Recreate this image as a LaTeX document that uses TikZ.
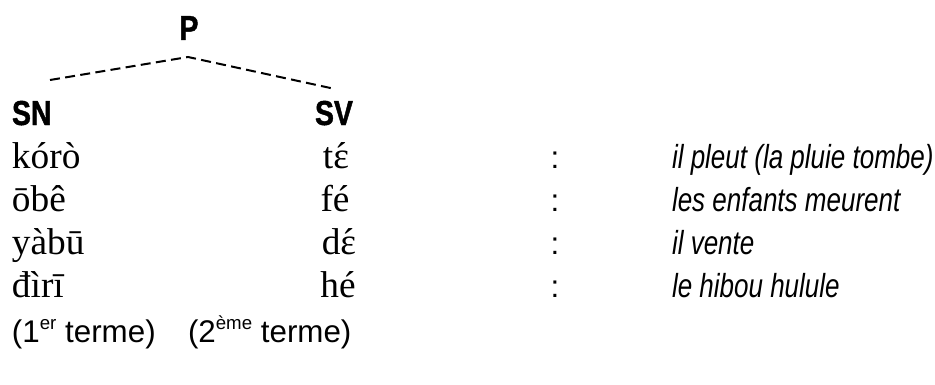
\documentclass[tikz,border=0pt]{standalone}
\usepackage{fontspec}
\setmainfont{Liberation Serif}
\setsansfont{Liberation Sans}
\newfontfamily\narrowsans[FakeStretch=0.78, BoldFont={Liberation Sans Bold}, ItalicFont={Liberation Sans Italic}]{Liberation Sans}
\newfontfamily\catfont[FakeStretch=0.82, FakeBold=1.2]{Liberation Sans Bold}
\usetikzlibrary{positioning}
\newcommand\acuteon[1]{\accent"B4 #1}
\newcommand\supr[1]{\raisebox{0.75ex}{\fontsize{14}{16}\selectfont #1}}

\begin{document}
\begin{tikzpicture}[x=0.75pt, y=-0.75pt,
  every node/.style={inner sep=0pt, outer sep=0pt},
  cat/.style={font=\catfont\fontsize{26}{30}\selectfont},
  word/.style={font=\fontsize{28}{32}\selectfont},
  gloss/.style={font=\narrowsans\itshape\fontsize{25}{29}\selectfont, anchor=base west},
  term/.style={font=\sffamily\fontsize{23.5}{27}\selectfont, anchor=base west},
  branch/.style={dash pattern=on 7.5pt off 4pt, line width=1.5pt}]
\useasboundingbox (0,0) rectangle (935,385);
\node[cat, anchor=base] (P) at (189,40) {P};
\node[cat, anchor=base west] (SN) at (12,125) {SN};
\node[cat, anchor=base west] (SV) at (315,125) {SV};
\coordinate (top) at (188,57);
\coordinate (left) at (50,80);
\coordinate (right) at (335,89);
\draw[branch] (left) -- (top) -- (right);
% lexemes
\node[word, anchor=base west] (w1) at (12,168) {kórò};
\node[word, anchor=base west] (w2) at (12,211) {ōbê};
\node[word, anchor=base west] (w3) at (12,254) {yàbū};
\node[word, anchor=base west] (w4) at (12,297) {đìrī};
\node[word, anchor=base] (v1) at (336,168) {t\acuteon{ɛ}};
\node[word, anchor=base] (v2) at (335,211) {fé};
\node[word, anchor=base] (v3) at (339,254) {d\acuteon{ɛ}};
\node[word, anchor=base] (v4) at (338,297) {hé};
\node[term, anchor=base] (c1) at (555,168) {:};
\node[term, anchor=base] (c2) at (555,211) {:};
\node[term, anchor=base] (c3) at (555,254) {:};
\node[term, anchor=base] (c4) at (555,297) {:};
\node[gloss] (g1) at (672,168) {il pleut (la pluie tombe)};
\node[gloss] (g2) at (672,211) {les enfants meurent};
\node[gloss] (g3) at (672,254) {il vente};
\node[gloss] (g4) at (672,297) {le hibou hulule};
% terms
\node[term] (t1) at (12,342) {(1\supr{er} terme)};
\node[term] (t2) at (188,342) {(2\supr{ème} terme)};
\end{tikzpicture}
\end{document}
